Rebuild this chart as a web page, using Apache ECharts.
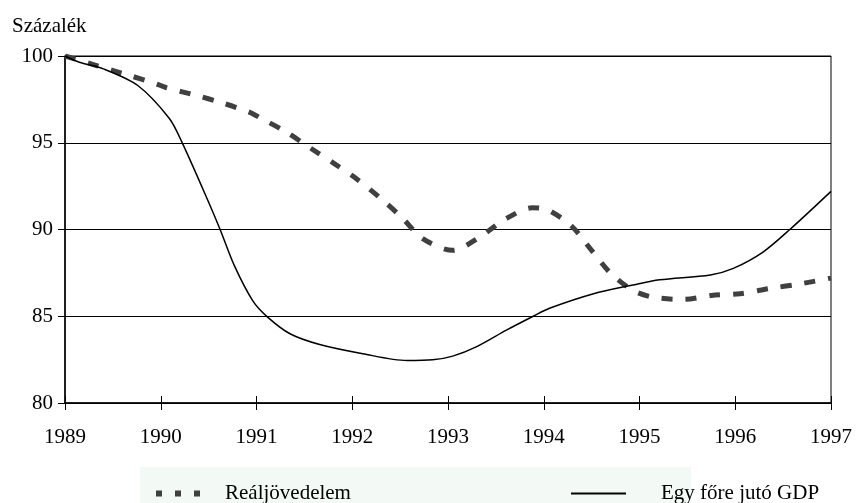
<!DOCTYPE html>
<html>
<head>
<meta charset="utf-8">
<script src="https://cdn.jsdelivr.net/npm/echarts@6/dist/echarts.min.js"></script>
<style>
  html, body { margin: 0; padding: 0; background: #fff; }
  #chart { width: 857px; height: 503px; }
</style>
</head>
<body>
<div id="chart"></div>
<script>
const yearTicks = [1989, 1990, 1991, 1992, 1993, 1994, 1995, 1996, 1997]

// Reáljövedelem (dashed)
const incomeYears = [1989, 1989.33, 1989.66, 1989.95, 1990.06, 1990.37, 1990.64, 1990.93, 1991.05, 1991.31, 1991.57, 1991.82, 1992.03, 1992.29, 1992.52, 1992.74, 1993.05, 1993.33, 1993.6, 1993.88, 1994.04, 1994.29, 1994.5, 1994.7, 1994.93, 1995.14, 1995.46, 1995.75, 1996.05, 1996.36, 1996.66, 1997]
const incomeValues = [100, 99.45, 98.9, 98.4, 98.17, 97.73, 97.3, 96.75, 96.4, 95.62, 94.67, 93.77, 92.98, 91.83, 90.68, 89.46, 88.8, 89.56, 90.6, 91.25, 91.13, 90.2, 88.8, 87.47, 86.5, 86.1, 85.97, 86.2, 86.3, 86.6, 86.85, 87.2]

// Egy főre jutó GDP (solid)
const gdpYears = [1989, 1989.15, 1989.4, 1989.76, 1990.09, 1990.22, 1990.49, 1990.62, 1990.77, 1990.96, 1991.11, 1991.35, 1991.66, 1992.11, 1992.57, 1992.84, 1993.05, 1993.3, 1993.61, 1993.89, 1994.06, 1994.52, 1994.93, 1995.21, 1995.74, 1995.98, 1996.29, 1996.57, 1997]
const gdpValues = [100, 99.64, 99.26, 98.3, 96.4, 95.05, 91.7, 90.0, 87.9, 85.9, 84.98, 83.99, 83.37, 82.84, 82.45, 82.49, 82.7, 83.25, 84.2, 85.0, 85.46, 86.3, 86.8, 87.1, 87.38, 87.76, 88.7, 90.0, 92.2]

const font = '"Liberation Serif", "Times New Roman", serif'

function pairs(xs, ys) {
    return xs.map((x, i) => [x, ys[i]])
}

const chart = echarts.init(document.getElementById('chart'), null, {renderer: 'canvas'})

const options = {
    animation: false,
    textStyle: {fontFamily: font, color: '#000'},
    grid: {
        left: 65,
        right: 26,
        top: 56,
        bottom: 100,
        show: true,
        borderColor: '#000',
        borderWidth: 1
    },
    graphic: [
        {
            type: 'rect',
            shape: {x: 140, y: 467, width: 551, height: 36},
            style: {fill: '#f3f9f5'},
            z: -1
        },
        {
            type: 'text',
            left: 12,
            top: 16,
            style: {text: 'Százalék', font: '21px ' + font, fill: '#000'}
        }
    ],
    legend: [
        {
            data: ['Reáljövedelem'],
            left: 148,
            top: 478,
            itemWidth: 44,
            itemHeight: 22,
            itemStyle: {opacity: 0},
            lineStyle: {type: [6, 13], width: 6, color: '#404040', cap: 'butt'},
            textStyle: {fontFamily: font, fontSize: 21, color: '#000', padding: [0, 0, 0, 20]}
        },
        {
            data: ['Egy főre jutó GDP'],
            left: 565,
            top: 478,
            itemWidth: 55,
            itemHeight: 22,
            itemStyle: {opacity: 0},
            textStyle: {fontFamily: font, fontSize: 21, color: '#000', padding: [0, 0, 0, 30]}
        }
    ],
    xAxis: [
        {
            type: 'value',
            min: 1989,
            max: 1997,
            interval: 1,
            axisLine: {lineStyle: {color: '#000', width: 1.5}},
            axisTick: {length: 7, lineStyle: {color: '#000'}},
            axisLabel: {
                fontFamily: font,
                fontSize: 21,
                color: '#000',
                margin: 24,
                formatter: v => String(v)
            },
            splitLine: {show: false}
        },
        {
            type: 'value',
            position: 'bottom',
            min: 1989,
            max: 1997,
            interval: 1,
            axisLine: {show: false},
            axisTick: {inside: true, length: 7, lineStyle: {color: '#000'}},
            axisLabel: {show: false},
            splitLine: {show: false}
        }
    ],
    yAxis: {
        type: 'value',
        min: 80,
        max: 100,
        interval: 5,
        axisLine: {show: true, lineStyle: {color: '#000', width: 1.5}},
        axisTick: {show: true, length: 7, lineStyle: {color: '#000'}},
        axisLabel: {fontFamily: font, fontSize: 21, color: '#000', margin: 12},
        splitLine: {lineStyle: {color: '#000', width: 1}}
    },
    series: [
        {
            name: 'Reáljövedelem',
            type: 'line',
            data: pairs(incomeYears, incomeValues),
            symbol: 'none',
            smooth: 0.3,
            lineStyle: {color: '#404040', width: 5, type: [11, 13], cap: 'butt'},
            itemStyle: {color: '#404040'},
            z: 3
        },
        {
            name: 'Egy főre jutó GDP',
            type: 'line',
            data: pairs(gdpYears, gdpValues),
            symbol: 'none',
            smooth: 0.3,
            lineStyle: {color: '#000', width: 1.5},
            itemStyle: {color: '#000'},
            z: 4
        }
    ]
}

chart.setOption(options)
</script>
</body>
</html>
